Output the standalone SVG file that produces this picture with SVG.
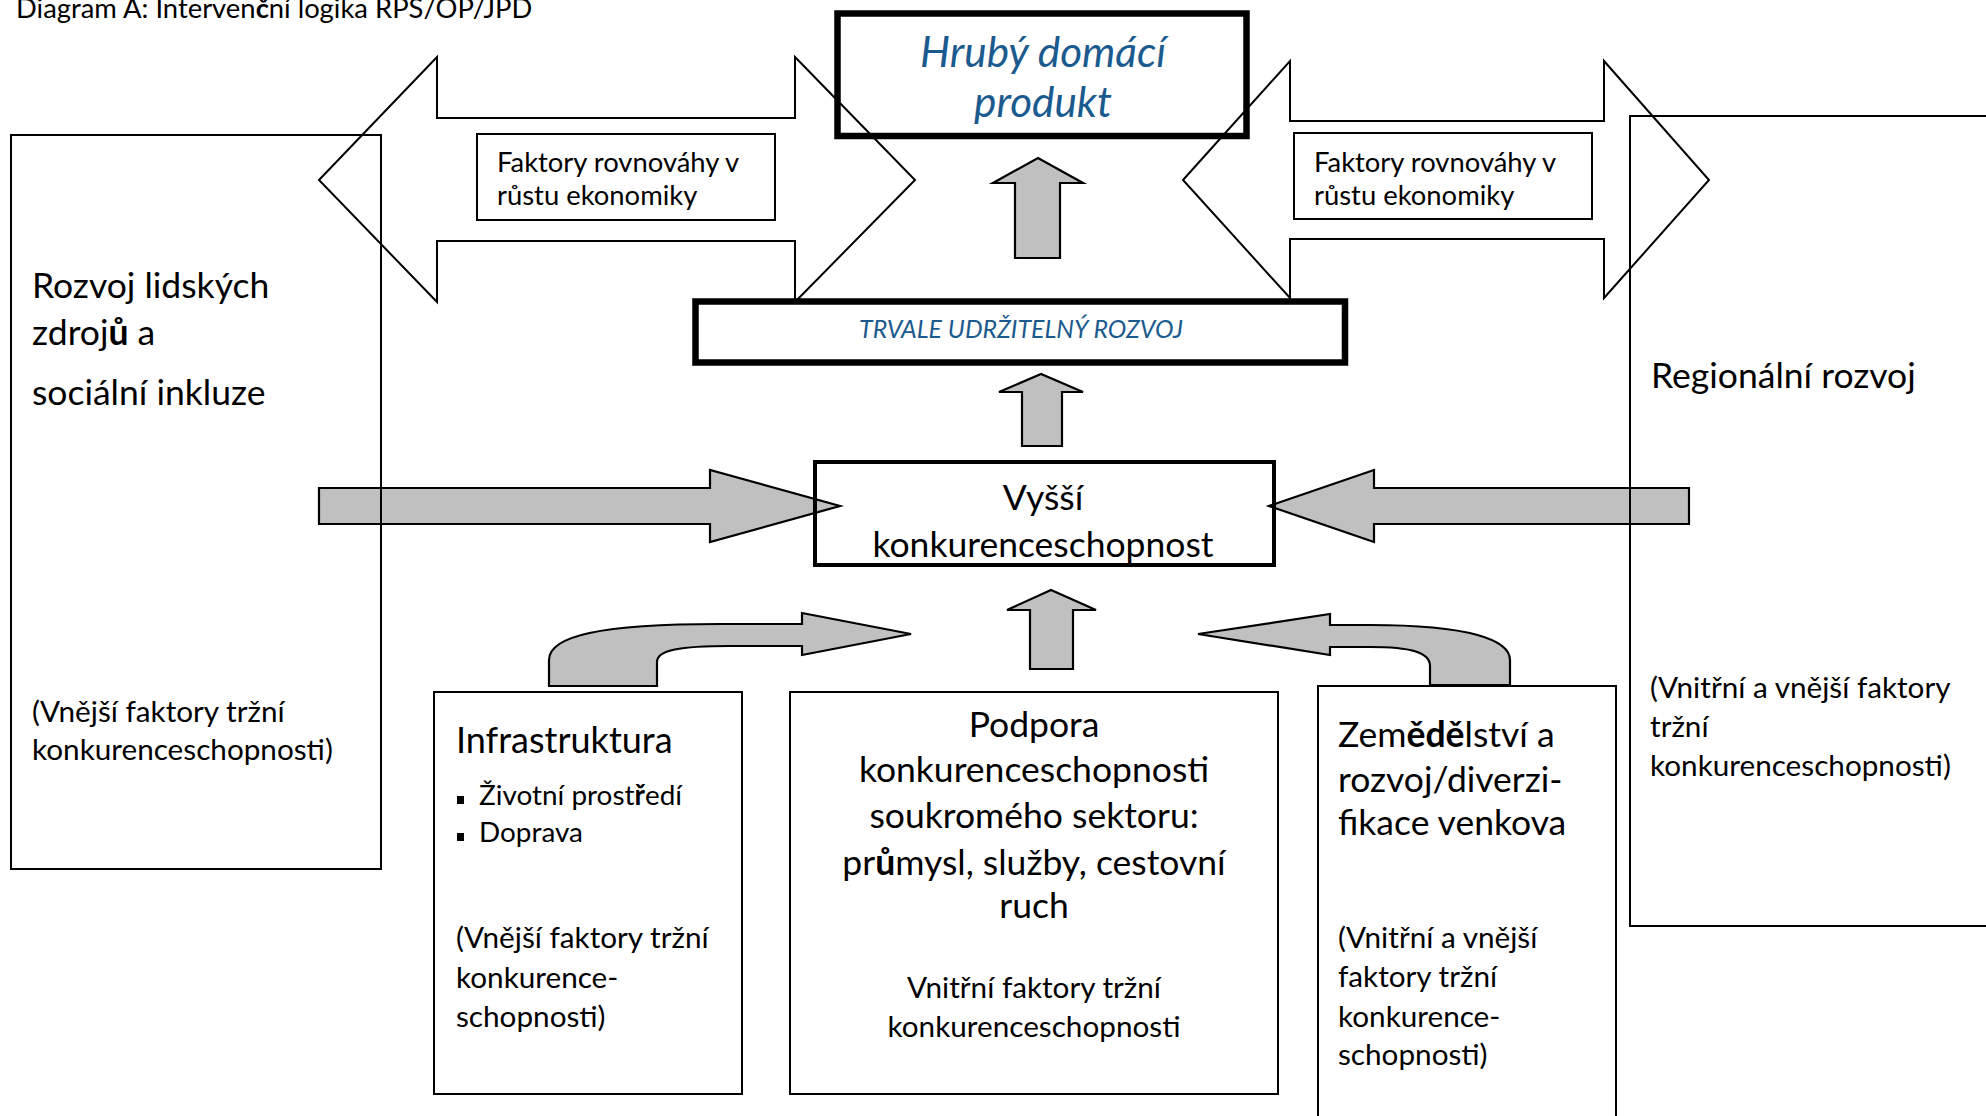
<svg xmlns="http://www.w3.org/2000/svg" width="1986" height="1116" viewBox="0 0 1986 1116">
<style>
text{font-family:Lato,"Noto Sans",sans-serif;fill:#000}
.box{fill:none;stroke:#000;stroke-width:2}
.thick{fill:none;stroke:#000;stroke-width:6.5}
.hollow{fill:none;stroke:#000;stroke-width:2;stroke-linejoin:miter}
.grey{fill:#C0C0C0;stroke:#000;stroke-width:2.2;stroke-linejoin:miter}
.blue{fill:#1B5A8E;font-style:italic}
.b{font-weight:bold}
.fk{font-size:27.4px}
.hd{font-size:35.5px}
.bd{font-size:29.7px}
.mid{text-anchor:middle}
</style>
<defs>
<clipPath id="vclip"><rect x="817" y="464" width="455" height="99"/></clipPath>
</defs>
<rect width="1986" height="1116" fill="#fff"/>
<text x="16" y="18" font-size="27.4">Diagram A: Interven<tspan class="b">č</tspan>ní logika RPS/OP/JPD</text>

<g id="connectors">
<path class="hollow" d="M319,180 L437,57 V118 H795 V57 L915,180 L795,302 V241 H437 V302 Z"/>
<path class="hollow" d="M1183,180 L1290,61 V121 H1604 V61 L1709,180 L1604,298 V239 H1290 V298 Z"/>
<path class="grey" d="M1015,258 V183 H993 L1038,158 L1083,183 H1060 V258 Z"/>
<path class="grey" d="M1022,446 V392 H999 L1041,374 L1083,392 H1062 V446 Z"/>
<path class="grey" d="M1030,669 V610 H1007 L1051,590 L1096,610 H1073 V669 Z"/>
<path class="grey" d="M319,488 H710 V470 L840,506 L710,542 V524 H319 Z"/>
<path class="grey" d="M1689,488 H1374 V470 L1269,506 L1374,542 V524 H1689 Z"/>
<path class="grey" d="M549,686 V660 C549,636 600,624 720,624 H802 V613 L911,634 L802,655 V646 H730 C680,646 657,650 657,662 V686 Z"/>
<path class="grey" d="M1510,685 V660 C1510,640 1470,625 1370,625 H1330 V614 L1198,634 L1330,655 V647 H1370 C1410,647 1430,652 1430,666 V685 Z"/>
</g>

<g id="hdp">
<rect class="thick" x="837.5" y="13.5" width="409" height="122.5"/>
<text x="1043" y="67" class="blue mid" font-size="42.3">Hrubý domácí</text>
<text x="1043" y="117" class="blue mid" font-size="42.3">produkt</text>
</g>

<g id="faktory-left">
<rect class="box" x="477" y="134" width="298" height="86"/>
<text x="497" y="172" class="fk">Faktory rovnováhy v</text>
<text x="497" y="205" class="fk">růstu ekonomiky</text>
</g>

<g id="faktory-right">
<rect class="box" x="1294" y="133" width="298" height="86"/>
<text x="1314" y="172" class="fk">Faktory rovnováhy v</text>
<text x="1314" y="205" class="fk">růstu ekonomiky</text>
</g>

<g id="trvale">
<rect class="thick" x="695.5" y="301.5" width="649.5" height="61"/>
<text x="1021" y="338" class="blue mid" font-size="24.9">TRVALE UDRŽITELNÝ ROZVOJ</text>
</g>

<g id="vyssi">
<rect fill="none" stroke="#000" stroke-width="4" x="815" y="462" width="459" height="103"/>
<g clip-path="url(#vclip)">
<text x="1043" y="510" class="mid" font-size="35.5">Vyšší</text>
<text x="1043" y="557" class="mid" font-size="35.5">konkurenceschopnost</text>
</g>
</g>

<g id="rozvoj-lidskych">
<rect class="box" x="11" y="135" width="370" height="734"/>
<text x="32" y="298" class="hd">Rozvoj lidských</text>
<text x="32" y="345" class="hd">zdroj<tspan class="b">ů</tspan> a</text>
<text x="32" y="405" class="hd">sociální inkluze</text>
<text x="32" y="722" class="bd">(Vnější faktory tržní</text>
<text x="32" y="760" class="bd">konkurenceschopnosti)</text>
</g>

<g id="regionalni">
<rect class="box" x="1630" y="116" width="380" height="810"/>
<text x="1651" y="388" class="hd">Regionální rozvoj</text>
<text x="1650" y="698" class="bd">(Vnitřní a vnější faktory</text>
<text x="1650" y="737" class="bd">tržní</text>
<text x="1650" y="776" class="bd">konkurenceschopnosti)</text>
</g>

<g id="infrastruktura">
<rect class="box" stroke-width="1.6" x="434" y="692" width="308" height="402"/>
<text x="456" y="753" font-size="36">Infrastruktura</text>
<rect x="457" y="796" width="7" height="8" fill="#000"/>
<text x="479" y="805" font-size="27.9">Životní prost<tspan class="b">ř</tspan>edí</text>
<rect x="457" y="833" width="7" height="8" fill="#000"/>
<text x="479" y="842" font-size="27.9">Doprava</text>
<text x="456" y="948" class="bd">(Vnější faktory tržní</text>
<text x="456" y="988" class="bd">konkurence-</text>
<text x="456" y="1027" class="bd">schopnosti)</text>
</g>

<g id="podpora">
<rect class="box" stroke-width="2.5" x="790" y="692" width="488" height="402"/>
<text x="1034" y="737" class="mid hd">Podpora</text>
<text x="1034" y="782" class="mid hd">konkurenceschopnosti</text>
<text x="1034" y="828" class="mid hd">soukromého sektoru:</text>
<text x="1034" y="875" class="mid hd">pr<tspan class="b">ů</tspan>mysl, služby, cestovní</text>
<text x="1034" y="918" class="mid hd">ruch</text>
<text x="1034" y="998" class="mid bd">Vnitřní faktory tržní</text>
<text x="1034" y="1037" class="mid bd">konkurenceschopnosti</text>
</g>

<g id="zemedelstvi">
<rect class="box" stroke-width="1.6" x="1318" y="686" width="298" height="450"/>
<text x="1338" y="747" class="hd">Zem<tspan class="b">ědě</tspan>lství a</text>
<text x="1338" y="792" class="hd">rozvoj/diverzi-</text>
<text x="1338" y="835" class="hd">fikace venkova</text>
<text x="1338" y="948" class="bd">(Vnitřní a vnější</text>
<text x="1338" y="987" class="bd">faktory tržní</text>
<text x="1338" y="1027" class="bd">konkurence-</text>
<text x="1338" y="1065" class="bd">schopnosti)</text>
</g>
</svg>
